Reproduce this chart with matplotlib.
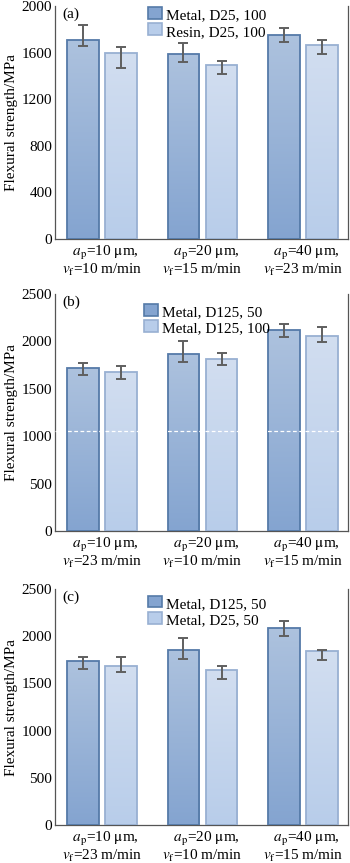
import numpy as np
import matplotlib
matplotlib.use("Agg")
import matplotlib.pyplot as plt
from matplotlib.patches import Rectangle
from matplotlib.legend_handler import HandlerBase
from matplotlib.colors import LinearSegmentedColormap

plt.rcParams['font.family'] = ['Liberation Serif', 'DejaVu Serif']
plt.rcParams['mathtext.fontset'] = 'stix'

# ---------------- data ----------------
ap_values = [10, 20, 40]
vf_a = [10, 15, 23]
vf_bc = [23, 10, 15]

labels_a = ["Metal, D25, 100", "Resin, D25, 100"]
mean_a1 = [1711, 1591, 1750]
lo_a1 = [1660, 1521, 1691]
hi_a1 = [1833, 1679, 1810]
mean_a2 = [1597, 1492, 1665]
lo_a2 = [1470, 1418, 1591]
hi_a2 = [1645, 1526, 1708]

labels_b = ["Metal, D125, 50", "Metal, D125, 100"]
mean_b1 = [1718, 1870, 2116]
lo_b1 = [1641, 1782, 2042]
hi_b1 = [1768, 2007, 2183]
mean_b2 = [1680, 1813, 2060]
lo_b2 = [1602, 1754, 1993]
hi_b2 = [1739, 1873, 2151]

labels_c = ["Metal, D125, 50", "Metal, D25, 50"]
mean_c1 = [1734, 1854, 2088]
lo_c1 = [1652, 1762, 2006]
hi_c1 = [1783, 1978, 2162]
mean_c2 = [1688, 1642, 1840]
lo_c2 = [1617, 1546, 1752]
hi_c2 = [1783, 1681, 1858]

panel_tags = ["(a)", "(b)", "(c)"]
ylims = [2000, 2500, 2500]
yticks_a = [0, 400, 800, 1200, 1600, 2000]
yticks_bc = [0, 500, 1000, 1500, 2000, 2500]

# ---------------- style ----------------
dark_top, dark_bot, dark_edge = "#adc2de", "#84a4d0", "#557aa8"
light_top, light_bot, light_edge = "#d2def0", "#b8cdea", "#98b0d2"
cmap_dark = LinearSegmentedColormap.from_list("d", [dark_bot, dark_top])
cmap_light = LinearSegmentedColormap.from_list("l", [light_bot, light_top])
err_color = "#5f5f5f"

W, H = 350, 863
fig = plt.figure(figsize=(W / 100, H / 100), dpi=100)
PX = 72 / 100  # points per pixel

# axes positions in pixels: (left, top, right, bottom)
boxes = [(55, 6, 347.5, 239), (55, 294, 347.5, 531), (55, 589, 347.5, 825)]
legend_y = [1.05, 1.012, 1.025]

bw = 0.315
off = 0.19


def grad_bar(ax, x, h, cmap, edge):
    grad = np.linspace(0, 1, 256).reshape(-1, 1)
    im = ax.imshow(grad, cmap=cmap, origin="lower", aspect="auto",
                   extent=[x - bw / 2, x + bw / 2, 0, h], zorder=2)
    rect = Rectangle((x - bw / 2, 0), bw, h, facecolor="none",
                     edgecolor=edge, linewidth=1.3, zorder=3)
    ax.add_patch(rect)
    im.set_clip_path(rect)


class GradHandler(HandlerBase):
    def __init__(self, top, bot, edge):
        super().__init__()
        self.top, self.bot, self.edge = top, bot, edge

    def create_artists(self, legend, orig_handle, xdescent, ydescent,
                       width, height, fontsize, trans):
        r = Rectangle((xdescent, ydescent), width, height,
                      facecolor=self.bot, edgecolor=self.edge,
                      linewidth=1.2, transform=trans)
        return [r]


datasets = [
    (labels_a, mean_a1, lo_a1, hi_a1, mean_a2, lo_a2, hi_a2, vf_a),
    (labels_b, mean_b1, lo_b1, hi_b1, mean_b2, lo_b2, hi_b2, vf_bc),
    (labels_c, mean_c1, lo_c1, hi_c1, mean_c2, lo_c2, hi_c2, vf_bc),
]

for i, (box, ds) in enumerate(zip(boxes, datasets)):
    l, t, r, b = box
    ax = fig.add_axes([l / W, 1 - b / H, (r - l) / W, (b - t) / H])
    labs, m1, lo1, hi1, m2, lo2, hi2, vf = ds
    xs = np.arange(3)
    for k in range(3):
        grad_bar(ax, xs[k] - off, m1[k], cmap_dark, dark_edge)
        grad_bar(ax, xs[k] + off, m2[k], cmap_light, light_edge)
    e1 = [np.array(m1) - np.array(lo1), np.array(hi1) - np.array(m1)]
    e2 = [np.array(m2) - np.array(lo2), np.array(hi2) - np.array(m2)]
    ax.errorbar(xs - off, m1, yerr=e1, fmt="none", ecolor=err_color,
                elinewidth=1.4, capsize=3.5, capthick=1.4, zorder=4)
    ax.errorbar(xs + off, m2, yerr=e2, fmt="none", ecolor=err_color,
                elinewidth=1.4, capsize=3.5, capthick=1.4, zorder=4)
    if i == 1:
        ax.axhline(1050, color="white", linestyle=(0, (3, 2)), linewidth=0.9,
                   zorder=5, clip_on=False, xmax=1.01)
    ax.set_xlim(-0.465, 2.44)
    ax.set_ylim(0, ylims[i])
    ax.set_yticks(yticks_a if i == 0 else yticks_bc)
    ax.tick_params(axis="y", labelsize=11, length=0, pad=2)
    ax.set_xticks([])
    for s in ax.spines.values():
        s.set_color("#555555")
        s.set_linewidth(0.9)
    ax.spines["top"].set_visible(False)
    ax.set_ylabel("Flexural strength/MPa", fontsize=11, labelpad=3)
    ax.annotate(panel_tags[i], xy=(0, 1), xycoords="axes fraction",
                xytext=(7 * PX, -2 * PX), textcoords="offset points",
                fontsize=11, va="top", ha="left")
    for k in range(3):
        txt = (r"  $a_\mathrm{p}$=%d $\mathrm{\mu}$m," % ap_values[k] + "\n"
               + r"$v_\mathrm{f}$=%d m/min" % vf[k])
        ax.annotate(txt, xy=(xs[k], 0), xycoords=("data", "axes fraction"),
                    xytext=(0, -22 * PX), textcoords="offset points",
                    ha="center", va="center", multialignment="center",
                    linespacing=1.0, fontsize=11)
    h1 = Rectangle((0, 0), 1, 1)
    h2 = Rectangle((0, 0), 1, 1)
    ax.legend([h1, h2], labs, loc="upper center",
              bbox_to_anchor=(0.52, legend_y[i]),
              frameon=False, fontsize=11, handlelength=0.9, handleheight=0.8,
              handletextpad=0.25, labelspacing=0.15,
              handler_map={h1: GradHandler(dark_top, dark_bot, dark_edge),
                           h2: GradHandler(light_top, light_bot, light_edge)})

fig.savefig("out.png", dpi=100)
